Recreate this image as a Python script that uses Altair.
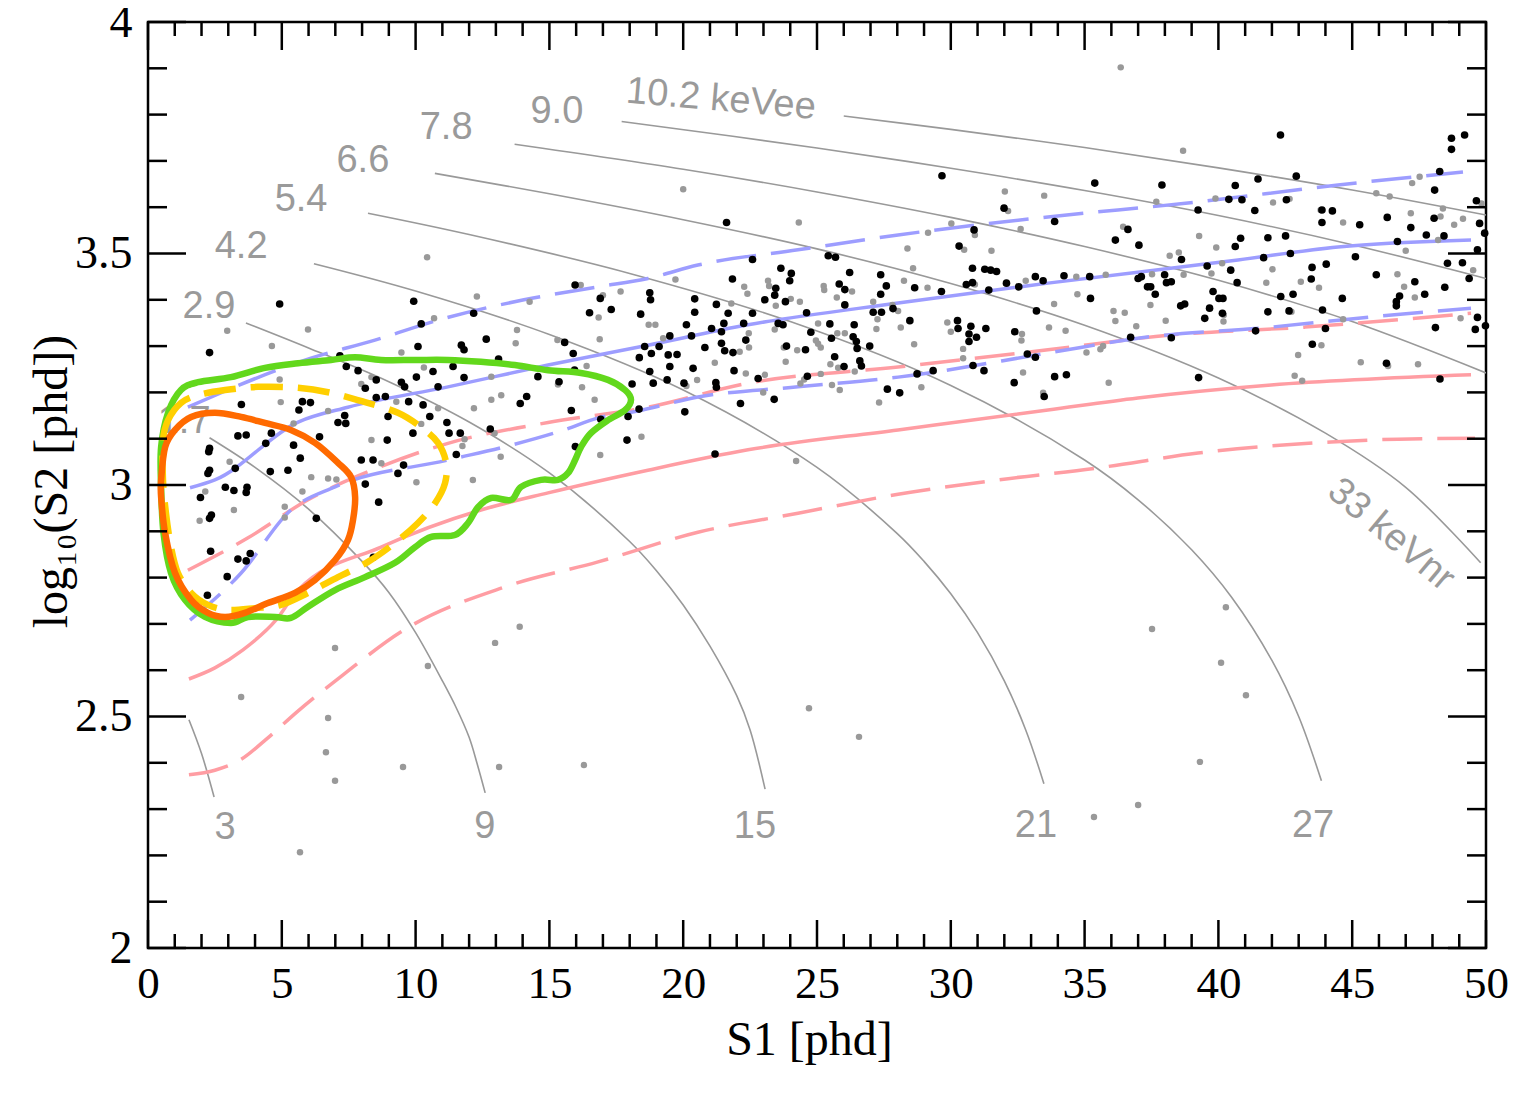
import altair as alt
import pandas as pd

W, H = 1338, 926

# ---------------- constant-energy contours (S1 [phd], log10 S2) ----------------
E_3NR = [(1.53, 2.493), (2.0, 2.42), (2.47, 2.326)]
E_1p7 = [(2.3, 3.102), (4, 3.038), (6, 2.948), (8, 2.835), (9, 2.768), (10, 2.681), (11, 2.577), (11.5, 2.521),
         (12, 2.455), (12.3, 2.398), (12.6, 2.335)]
E_2p9 = [(3.66, 3.350), (6, 3.296), (9, 3.223), (12, 3.136), (15, 3.026), (18, 2.878), (19, 2.815), (20, 2.741),
         (21, 2.652), (22, 2.545), (22.5, 2.471), (23.06, 2.343)]
E_4p2 = [(6.2, 3.478), (10, 3.419), (15, 3.325), (20, 3.205), (25, 3.038), (28, 2.895), (29, 2.835), (30, 2.765),
         (31, 2.681), (32, 2.577), (32.8, 2.471), (33.48, 2.355)]
E_5p4 = [(8.22, 3.587), (12, 3.541), (18, 3.457), (24, 3.353), (30, 3.215), (35, 3.054), (37, 2.968), (39, 2.860),
         (40.5, 2.757), (42, 2.621), (43, 2.500), (43.85, 2.361)]
E_6p6 = [(10.72, 3.673), (15, 3.629), (20, 3.573), (25, 3.510), (30, 3.435), (35, 3.345), (40, 3.231), (44, 3.112),
         (47, 2.995), (49.8, 2.832)]
E_7p8 = [(13.7, 3.736), (20, 3.682), (25, 3.633), (30, 3.578), (35, 3.515), (40, 3.442), (45, 3.353), (50, 3.242)]
E_9p0 = [(17.7, 3.785), (25, 3.728), (30, 3.684), (35, 3.636), (40, 3.582), (45, 3.519), (50, 3.446)]
E_10p2 = [(26.0, 3.797), (30, 3.768), (35, 3.729), (40, 3.685), (45, 3.637), (50, 3.583)]

# ---------------- ER (blue) and NR (red) bands ----------------
BLUE_MED = [(1.57, 2.994), (2.50, 3.011), (5.61, 3.136), (7.47, 3.168), (11.21, 3.212), (14.95, 3.259),
            (18.68, 3.302), (22.42, 3.346), (28.03, 3.393), (33.63, 3.436), (40.73, 3.486), (44.47, 3.514), (49.44, 3.529)]
BLUE_HI = [(1.49, 3.168), (6.09, 3.274), (8.48, 3.313), (10.84, 3.356), (14.05, 3.400), (16.82, 3.428),
           (18.68, 3.446), (20.55, 3.475), (24.29, 3.508), (28.03, 3.540), (33.63, 3.579), (38.86, 3.609),
           (44.47, 3.648), (49.14, 3.676)]
BLUE_LO = [(1.57, 2.708), (3.48, 2.810), (5.34, 2.946), (6.99, 2.996), (11.21, 3.054), (13.5, 3.085),
           (15.5, 3.118), (16.82, 3.145), (18.31, 3.160), (20.55, 3.190), (24.29, 3.212), (28.03, 3.233),
           (33.63, 3.285), (36.99, 3.317), (41.97, 3.341), (45.70, 3.363), (49.44, 3.382)]
RED_MED = [(1.53, 2.581), (2.50, 2.605), (3.55, 2.644), (4.78, 2.708), (5.61, 2.773), (8.71, 2.866),
           (12.44, 2.946), (14.95, 2.983), (18.68, 3.032), (22.42, 3.076), (28.03, 3.119), (33.63, 3.162),
           (36.99, 3.188), (41.97, 3.216), (49.44, 3.238)]
RED_HI = [(1.49, 2.816), (3.74, 2.886), (5.98, 2.968), (8.71, 3.040), (11.21, 3.090), (14.95, 3.135),
          (18.68, 3.168), (22.42, 3.220), (28.03, 3.255), (33.63, 3.292), (38.23, 3.324), (43.24, 3.341), (49.44, 3.371)]
RED_LO = [(1.53, 2.374), (2.50, 2.384), (3.44, 2.406), (4.48, 2.454), (5.57, 2.510), (7.29, 2.590),
          (9.57, 2.687), (13.34, 2.780), (16.82, 2.834), (20.55, 2.898), (24.29, 2.939), (28.03, 2.980),
          (31.76, 3.011), (35.50, 3.037), (39.24, 3.069), (44.21, 3.093), (46.71, 3.099), (49.59, 3.101)]

# ---------------- signal contours ----------------
GREEN = [(0.49, 3.082), (0.75, 3.156), (1.23, 3.205), (1.87, 3.222), (3.10, 3.233), (4.37, 3.253), (5.61, 3.263),
         (6.84, 3.270), (7.74, 3.276), (8.71, 3.270), (9.98, 3.270), (11.21, 3.270), (12.44, 3.266), (13.71, 3.259),
         (14.95, 3.248), (16.18, 3.242), (17.19, 3.227), (17.83, 3.205), (18.05, 3.184), (17.83, 3.162),
         (17.19, 3.140), (16.55, 3.112), (16.18, 3.082), (15.96, 3.054), (15.70, 3.026), (15.32, 3.011),
         (14.69, 3.011), (13.94, 2.996), (13.57, 2.968), (12.82, 2.972), (12.33, 2.952), (11.96, 2.918),
         (11.47, 2.892), (10.58, 2.888), (9.98, 2.866), (9.23, 2.832), (8.11, 2.801), (6.99, 2.773),
         (5.98, 2.737), (5.34, 2.713), (4.75, 2.715), (3.74, 2.715), (3.10, 2.702), (2.13, 2.715),
         (1.38, 2.752), (0.86, 2.810), (0.58, 2.896), (0.49, 2.996)]
YELLOW = [(0.56, 3.097), (0.75, 3.140), (1.23, 3.177), (1.87, 3.194), (2.88, 3.205), (4.11, 3.212), (5.61, 3.210),
          (6.84, 3.199), (8.11, 3.179), (9.34, 3.156), (10.20, 3.125), (10.84, 3.091), (11.14, 3.048),
          (11.10, 3.004), (10.73, 2.961), (10.09, 2.918), (9.23, 2.875), (8.22, 2.834), (7.10, 2.801),
          (5.98, 2.767), (4.97, 2.741), (4.00, 2.734), (2.99, 2.730), (2.24, 2.741), (1.61, 2.767),
          (1.12, 2.810), (0.86, 2.866), (0.67, 2.940), (0.56, 3.011)]
ORANGE = [(0.49, 3.011), (0.64, 3.082), (1.01, 3.119), (1.61, 3.147), (2.50, 3.156), (3.48, 3.147), (4.37, 3.134),
          (5.34, 3.119), (6.24, 3.091), (7.10, 3.048), (7.59, 3.017), (7.74, 2.974), (7.66, 2.924), (7.47, 2.881),
          (6.99, 2.838), (6.24, 2.795), (5.49, 2.767), (4.48, 2.745), (3.62, 2.724), (2.88, 2.715), (2.24, 2.724),
          (1.61, 2.752), (1.01, 2.810), (0.64, 2.896), (0.49, 2.974)]

# ---------------- events ----------------
BLACK = [
    (4.92, 3.391), (9.93, 3.397), (2.30, 3.286), (7.17, 3.279), (10.21, 3.348), (12.17, 3.371), (10.09, 3.299),
    (11.71, 3.302), (11.81, 3.292), (12.64, 3.315), (13.10, 3.272), (15.96, 3.432), (16.50, 3.372), (16.90, 3.403),
    (17.31, 3.379), (18.41, 3.369), (15.57, 3.308), (15.89, 3.284), (18.56, 3.299), (18.36, 3.275), (7.41, 3.256),
    (7.85, 3.247), (8.53, 3.227), (8.12, 3.209), (9.47, 3.222), (9.59, 3.212), (10.03, 3.233), (10.65, 3.245),
    (10.84, 3.212), (11.40, 3.256), (11.81, 3.232), (14.57, 3.234), (15.36, 3.223), (15.94, 3.248), (18.09, 3.218),
    (18.35, 3.164), (17.94, 3.148), (15.82, 3.161), (13.91, 3.176), (14.15, 3.191), (12.79, 3.121), (17.90, 3.097),
    (15.97, 3.083), (16.92, 3.142), (3.49, 3.174), (5.77, 3.180), (6.07, 3.178), (5.64, 3.162), (7.35, 3.150),
    (7.10, 3.135), (7.39, 3.133), (8.53, 3.189), (8.87, 3.191), (9.74, 3.180), (10.28, 3.173), (10.53, 3.148),
    (8.97, 3.148), (11.17, 3.135), (11.67, 3.112), (11.25, 3.112), (11.52, 3.066), (9.90, 3.112), (8.94, 3.097),
    (3.36, 3.106), (3.67, 3.108), (4.61, 3.112), (4.40, 3.090), (5.44, 3.086), (6.41, 3.104), (5.69, 3.058),
    (2.30, 3.079), (2.27, 3.072), (3.26, 3.036), (2.30, 3.032), (2.24, 3.025), (4.57, 3.029), (5.23, 3.032),
    (7.97, 3.054), (8.41, 3.054), (9.55, 3.043), (9.34, 3.025), (8.12, 3.002), (2.89, 2.995), (3.21, 2.988),
    (3.70, 2.995), (3.67, 2.984), (1.96, 2.973), (2.37, 2.935), (2.30, 2.928), (6.29, 2.928), (8.62, 2.963),
    (2.34, 2.857), (3.36, 2.840), (3.67, 2.836), (3.82, 2.852), (2.96, 2.802), (2.22, 2.762), (8.42, 2.844),
    (29.67, 3.668), (21.62, 3.567), (31.99, 3.598), (30.87, 3.551), (30.31, 3.516), (25.42, 3.495), (25.69, 3.492),
    (22.59, 3.487), (23.65, 3.468), (24.04, 3.457), (23.98, 3.441), (21.84, 3.445), (26.22, 3.459), (27.38, 3.454),
    (27.59, 3.430), (28.65, 3.426), (27.38, 3.412), (26.04, 3.422), (25.83, 3.434), (23.46, 3.425), (23.42, 3.410),
    (23.05, 3.400), (23.82, 3.396), (20.43, 3.402), (18.75, 3.415), (18.78, 3.400), (20.43, 3.373), (21.24, 3.390),
    (21.68, 3.371), (22.59, 3.371), (22.26, 3.349), (21.52, 3.349), (21.43, 3.331), (20.12, 3.346), (21.06, 3.338),
    (20.31, 3.322), (19.50, 3.322), (18.81, 3.284), (19.10, 3.299), (19.44, 3.281), (19.77, 3.282), (20.81, 3.297),
    (21.43, 3.306), (21.55, 3.290), (21.86, 3.286), (22.34, 3.313), (23.55, 3.349), (23.73, 3.346), (24.61, 3.372),
    (24.77, 3.330), (25.54, 3.317), (25.48, 3.348), (26.39, 3.346), (26.35, 3.320), (26.47, 3.310), (26.50, 3.295),
    (26.97, 3.300), (24.57, 3.292), (23.86, 3.300), (26.04, 3.389), (27.10, 3.373), (27.41, 3.373), (27.84, 3.381),
    (28.47, 3.355), (29.65, 3.418), (30.81, 3.468), (31.27, 3.466), (31.49, 3.464), (31.71, 3.461), (30.58, 3.433),
    (30.81, 3.437), (31.42, 3.421), (32.08, 3.436), (32.54, 3.428), (33.16, 3.450), (33.45, 3.441), (30.25, 3.355),
    (30.27, 3.338), (30.75, 3.343), (30.68, 3.326), (30.68, 3.310), (30.96, 3.319), (31.31, 3.338), (32.39, 3.331),
    (33.20, 3.376), (32.86, 3.283), (33.16, 3.276), (30.83, 3.258), (31.24, 3.247), (29.34, 3.247), (28.74, 3.240),
    (27.63, 3.207), (28.09, 3.199), (26.60, 3.268), (26.66, 3.257), (26.01, 3.256), (25.66, 3.277), (24.64, 3.235),
    (22.80, 3.230), (21.90, 3.247), (21.22, 3.221), (21.24, 3.211), (20.03, 3.220), (19.40, 3.227), (18.88, 3.220),
    (18.75, 3.245), (19.50, 3.256), (20.37, 3.252), (23.40, 3.185), (22.14, 3.176), (20.06, 3.158), (32.37, 3.221),
    (33.49, 3.191), (21.19, 3.067),
    (42.32, 3.756), (35.38, 3.652), (37.89, 3.648), (33.88, 3.569), (40.63, 3.647), (41.48, 3.661), (42.91, 3.667),
    (40.39, 3.617), (40.88, 3.616), (41.36, 3.593), (39.24, 3.594), (42.54, 3.616), (43.87, 3.594), (44.26, 3.592),
    (48.27, 3.677), (48.08, 3.637), (48.71, 3.749), (48.71, 3.725), (49.20, 3.756), (49.64, 3.614), (49.76, 3.565),
    (49.95, 3.544), (48.06, 3.576), (47.19, 3.556), (46.31, 3.578), (45.28, 3.562), (43.87, 3.567), (36.62, 3.552),
    (36.15, 3.529), (37.03, 3.518), (40.83, 3.533), (40.63, 3.515), (41.85, 3.534), (42.51, 3.538), (42.69, 3.500),
    (41.69, 3.491), (38.62, 3.487), (39.58, 3.473), (40.46, 3.464), (40.70, 3.437), (43.50, 3.470), (44.03, 3.477),
    (45.12, 3.493), (46.69, 3.526), (47.77, 3.540), (48.43, 3.538), (45.90, 3.454), (47.34, 3.439), (48.46, 3.427),
    (49.37, 3.446), (48.56, 3.479), (49.12, 3.480), (49.68, 3.508), (47.71, 3.412), (46.77, 3.408), (46.65, 3.396),
    (46.65, 3.387), (44.63, 3.403), (43.47, 3.445), (42.79, 3.412), (42.33, 3.407), (43.89, 3.378), (41.85, 3.374),
    (42.64, 3.376), (39.80, 3.418), (40.02, 3.403), (40.17, 3.403), (39.67, 3.382), (40.15, 3.371), (39.49, 3.360),
    (38.74, 3.391), (38.59, 3.387), (38.24, 3.439), (38.06, 3.437), (37.99, 3.454), (37.12, 3.450), (37.00, 3.446),
    (37.35, 3.428), (37.47, 3.428), (37.64, 3.412), (35.19, 3.450), (34.23, 3.452), (35.22, 3.403), (36.72, 3.319),
    (38.24, 3.318), (41.39, 3.333), (44.00, 3.338), (48.11, 3.340), (49.68, 3.362), (49.60, 3.336), (49.98, 3.344),
    (43.51, 3.304), (46.28, 3.263), (39.26, 3.232), (33.88, 3.234), (34.32, 3.238), (48.28, 3.229),
]
GRAY = [
    (2.96, 3.333), (5.98, 3.336), (4.63, 3.300), (12.29, 3.407), (10.69, 3.360), (13.79, 3.335), (13.74, 3.306),
    (14.26, 3.396), (16.17, 3.432), (17.00, 3.410), (17.66, 3.418), (16.84, 3.362), (16.88, 3.315), (15.30, 3.313),
    (9.47, 3.286), (4.92, 3.228), (10.31, 3.254), (12.83, 3.234), (13.20, 3.194), (12.83, 3.184), (12.18, 3.166),
    (15.32, 3.217), (16.22, 3.211), (16.39, 3.257), (16.69, 3.184), (18.44, 3.104), (16.90, 3.065), (13.18, 3.061),
    (12.14, 3.011), (10.84, 3.166), (10.21, 3.132), (9.28, 3.180), (11.83, 3.099), (11.75, 3.084), (12.95, 3.112),
    (4.96, 3.179), (6.73, 3.160), (5.44, 3.133), (7.97, 3.218), (8.35, 3.233), (8.35, 3.097), (8.72, 3.047),
    (3.05, 3.050), (6.10, 3.017), (6.73, 3.014), (7.04, 3.012), (5.77, 2.986), (5.11, 2.953), (5.11, 2.930),
    (3.21, 2.946), (1.93, 2.923), (2.14, 2.986), (10.03, 3.006), (13.89, 2.694),
    (20.00, 3.639), (24.32, 3.567), (30.02, 3.565), (29.15, 3.545), (30.90, 3.540), (32.61, 3.553), (32.02, 3.634),
    (32.14, 3.592), (33.49, 3.625), (28.38, 3.511), (30.50, 3.508), (31.52, 3.506), (28.59, 3.468), (28.25, 3.441),
    (29.13, 3.426), (30.90, 3.433), (32.80, 3.441), (27.82, 3.389), (28.03, 3.376), (27.10, 3.396), (27.26, 3.358),
    (28.13, 3.340), (28.63, 3.304), (27.22, 3.337), (29.87, 3.351), (30.00, 3.331), (32.66, 3.326), (32.64, 3.312),
    (30.46, 3.294), (30.46, 3.274), (32.70, 3.243), (33.45, 3.199), (28.90, 3.211), (27.32, 3.178), (25.85, 3.205),
    (25.56, 3.216), (26.41, 3.245), (25.79, 3.253), (25.50, 3.261), (25.14, 3.240), (25.04, 3.305), (25.14, 3.297),
    (24.96, 3.312), (24.26, 3.291), (23.83, 3.266), (23.76, 3.297), (24.02, 3.402), (24.36, 3.396), (25.25, 3.430),
    (25.27, 3.421), (25.74, 3.405), (26.31, 3.418), (25.76, 3.328), (26.04, 3.328), (25.04, 3.349), (23.46, 3.387),
    (23.42, 3.336), (23.17, 3.441), (23.21, 3.430), (22.28, 3.428), (22.40, 3.413), (21.80, 3.392), (22.45, 3.328),
    (22.46, 3.297), (22.11, 3.288), (21.18, 3.264), (20.52, 3.227), (20.12, 3.214), (19.25, 3.317), (18.71, 3.346),
    (18.96, 3.346), (19.71, 3.444), (22.34, 3.241), (23.05, 3.238), (22.99, 3.200), (24.52, 3.228), (24.38, 3.219),
    (38.68, 3.722), (37.68, 3.612), (39.89, 3.619), (42.04, 3.610), (42.66, 3.618), (43.82, 3.594), (45.90, 3.630),
    (46.40, 3.623), (47.24, 3.652), (47.52, 3.666), (47.19, 3.587), (44.66, 3.567), (48.39, 3.597), (48.30, 3.580),
    (48.81, 3.562), (49.14, 3.575), (49.83, 3.608), (36.44, 3.558), (39.28, 3.538), (39.92, 3.513), (38.18, 3.495),
    (38.52, 3.502), (38.70, 3.454), (40.14, 3.479), (39.74, 3.457), (42.02, 3.466), (41.79, 3.437), (43.08, 3.439),
    (43.76, 3.426), (46.69, 3.455), (46.94, 3.428), (47.34, 3.405), (47.00, 3.506), (48.21, 3.529), (49.52, 3.464),
    (37.52, 3.455), (35.79, 3.454), (34.69, 3.450), (33.86, 3.391), (34.73, 3.412), (36.08, 3.376), (36.50, 3.372),
    (36.15, 3.354), (37.46, 3.389), (38.03, 3.355), (36.93, 3.343), (33.67, 3.340), (34.29, 3.333), (40.20, 3.367),
    (40.19, 3.353), (42.73, 3.374), (44.66, 3.358), (49.05, 3.360), (35.07, 3.286), (35.59, 3.293), (35.69, 3.300),
    (43.85, 3.302), (42.98, 3.281), (42.85, 3.236), (43.13, 3.225), (45.32, 3.265), (46.34, 3.257), (47.46, 3.261),
    (35.90, 3.221),
    (10.43, 3.492), (36.35, 3.902), (24.22, 3.052), (24.70, 2.518), (26.57, 2.456), (3.48, 2.542), (6.99, 2.648),
    (6.73, 2.497), (6.65, 2.423), (6.99, 2.361), (5.68, 2.207), (9.53, 2.391), (10.46, 2.609), (12.97, 2.659),
    (13.12, 2.391), (16.29, 2.395), (40.28, 2.736), (37.52, 2.689), (40.10, 2.616), (41.03, 2.546), (39.31, 2.402),
    (37.00, 2.309), (35.35, 2.283),
]

# ---------------- energy labels ----------------
EE_LABELS = [("1.7", 1.35, 3.136), ("2.9", 2.28, 3.384), ("4.2", 3.48, 3.514), ("5.4", 5.72, 3.616),
             ("6.6", 8.03, 3.700), ("7.8", 11.14, 3.771), ("9.0", 15.28, 3.806)]
NR_LABELS = [("3", 2.88, 2.259), ("9", 12.59, 2.261), ("15", 22.68, 2.261), ("21", 33.18, 2.264), ("27", 43.54, 2.264)]
KEVEE_LABEL = [("10.2 keVee", 21.41, 3.832)]
KEVNR_LABEL = [("33 keVnr", 46.45, 2.892)]

X_MAJOR = [0, 5, 10, 15, 20, 25, 30, 35, 40, 45, 50]
X_MINOR = [i for i in range(0, 51) if i % 5 != 0]
Y_MAJOR = [2.0, 2.5, 3.0, 3.5, 4.0]
Y_MINOR = [round(2 + i * 0.1, 1) for i in range(21) if i % 5 != 0]

# ---------------- encodings ----------------
SERIF = "Liberation Serif"
SANS = "Liberation Sans"

xenc = alt.X("s1:Q", scale=alt.Scale(domain=[0, 50], nice=False, zero=False),
             axis=alt.Axis(values=X_MAJOR, format="d", labelPadding=13, labelFlush=False, labelFontSize=45,
                           labelOverlap=False, titleX=W / 2 - 8, titleY=92, titleBaseline="middle"),
             title="S1 [phd]")
yenc = alt.Y("y:Q", scale=alt.Scale(domain=[2, 4], nice=False, zero=False),
             axis=alt.Axis(values=Y_MAJOR, format="~g", labelPadding=16, labelFlush=False,
                           labelOverlap=False, titleX=-96, titleY=H / 2 - 4, titleAngle=270,
                           titleBaseline="middle", titleAlign="center"),
             title="log₁₀(S2 [phd])")


def pdf(pairs, **kw):
    df = pd.DataFrame(pairs, columns=["s1", "y"])
    df["i"] = range(len(df))
    for k, v in kw.items():
        df[k] = v
    return df


def line(pairs, color, width, dash=None, interp="monotone"):
    props = dict(color=color, strokeWidth=width, interpolate=interp, clip=True)
    if dash:
        props["strokeDash"] = dash
    return alt.Chart(pdf(pairs)).mark_line(**props).encode(x=xenc, y=yenc, order="i:Q")


def contour(pairs, color, width, dash=None):
    props = dict(color=color, strokeWidth=width, interpolate="cardinal-closed", clip=True,
                 strokeJoin="round", strokeCap="butt")
    if dash:
        props["strokeDash"] = dash
    return alt.Chart(pdf(pairs)).mark_line(**props).encode(x=xenc, y=yenc, order="i:Q")


def texts(items, size, angle=0):
    df = pd.DataFrame(items, columns=["t", "s1", "y"])
    return alt.Chart(df).mark_text(font=SANS, fontSize=size, color="#9a9a9a", align="center",
                                   baseline="middle", angle=angle).encode(x=xenc, y=yenc, text="t:N")


energy_layers = [line(p, "#999999", 1.6, interp="catmull-rom") for p in
                 [E_3NR, E_1p7, E_2p9, E_4p2, E_5p4, E_6p6, E_7p8, E_9p0, E_10p2]]

BLUE = "#9d9dff"
RED = "#ff9da3"
band_layers = [
    line(RED_LO, RED, 3.5, [40, 15]),
    line(RED_HI, RED, 3.5, [40, 15]),
    line(RED_MED, RED, 3.5),
    line(BLUE_LO, BLUE, 3.5, [40, 15]),
    line(BLUE_HI, BLUE, 3.5, [40, 15]),
    line(BLUE_MED, BLUE, 3.5),
]

gray_pts = alt.Chart(pdf(GRAY)).mark_circle(color="#999999", opacity=1, size=42).encode(x=xenc, y=yenc)
black_pts = alt.Chart(pdf(BLACK)).mark_circle(color="#000000", opacity=1, size=58).encode(x=xenc, y=yenc)

label_layers = [texts(EE_LABELS, 38), texts(NR_LABELS, 38), texts(KEVEE_LABEL, 38, 5),
                texts(KEVNR_LABEL, 38, 40)]

contour_layers = [
    contour(GREEN, "#62d81c", 6.5),
    contour(YELLOW, "#ffcf00", 6.5, [32, 15]),
    contour(ORANGE, "#ff6a00", 6.5),
]


def xticks(vals, length):
    df = pd.DataFrame({"s1": vals})
    bottom = alt.Chart(df).mark_rule(color="black", strokeWidth=2.5).encode(
        x=xenc, y=alt.value(H), y2=alt.value(H - length))
    top = alt.Chart(df).mark_rule(color="black", strokeWidth=2.5).encode(
        x=xenc, y=alt.value(0), y2=alt.value(length))
    return [bottom, top]


def yticks(vals, length):
    df = pd.DataFrame({"y": vals})
    left = alt.Chart(df).mark_rule(color="black", strokeWidth=2.5).encode(
        y=yenc, x=alt.value(0), x2=alt.value(length))
    right = alt.Chart(df).mark_rule(color="black", strokeWidth=2.5).encode(
        y=yenc, x=alt.value(W), x2=alt.value(W - length))
    return [left, right]


tick_layers = xticks(X_MAJOR, 28) + xticks(X_MINOR, 14) + yticks(Y_MAJOR, 38) + yticks(Y_MINOR, 19)

chart = alt.layer(
    *energy_layers, *band_layers, gray_pts, black_pts, *label_layers, *contour_layers, *tick_layers
).properties(
    width=W, height=H,
    autosize=alt.AutoSizeParams(type="none"),
    padding={"left": 140, "top": 14, "right": 22, "bottom": 130},
    background="white",
).configure_view(
    stroke="black", strokeWidth=2.5
).configure_axis(
    domain=False, ticks=False, grid=False,
    labelFont=SERIF, labelFontSize=46, labelColor="black",
    titleFont=SERIF, titleFontSize=48, titleColor="black", titleFontWeight="normal",
)

chart.save("out.html", embed_options={"renderer": "svg", "actions": False})
